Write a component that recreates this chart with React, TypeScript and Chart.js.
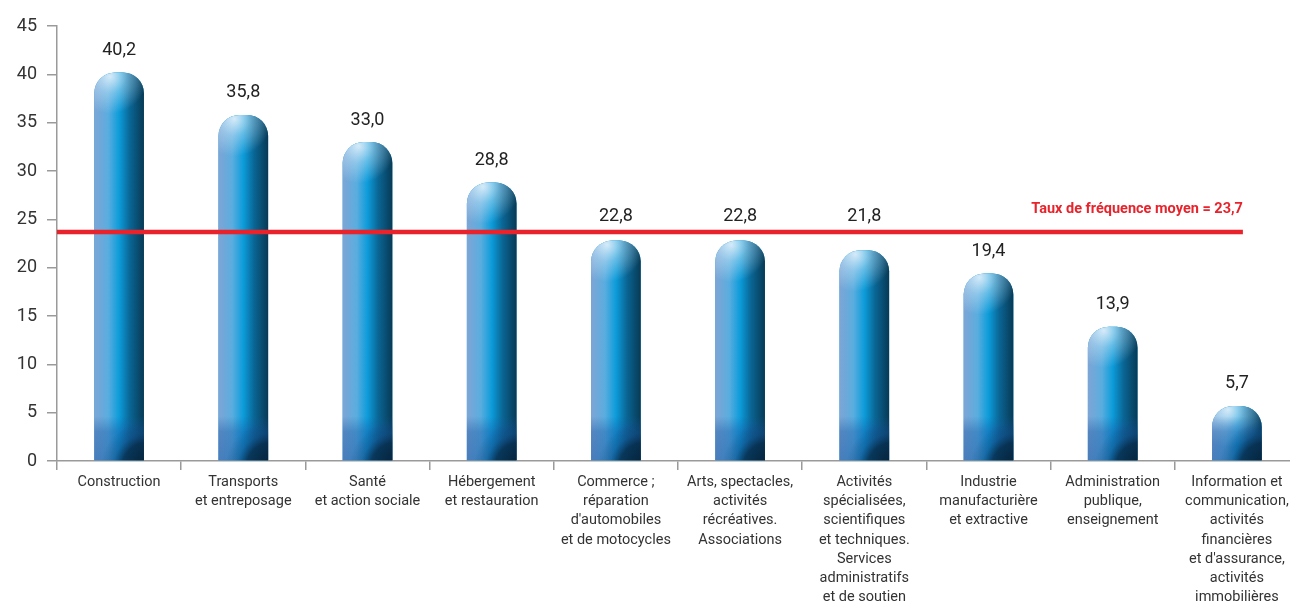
import React, { useEffect, useRef } from "react";
import { Chart, registerables } from "chart.js";

Chart.register(...registerables);

const categories: string[][] = [
  ["Construction"],
  ["Transports", "et entreposage"],
  ["Santé", "et action sociale"],
  ["Hébergement", "et restauration"],
  ["Commerce ;", "réparation", "d'automobiles", "et de motocycles"],
  ["Arts, spectacles,", "activités", "récréatives.", "Associations"],
  ["Activités", "spécialisées,", "scientifiques", "et techniques.", "Services", "administratifs", "et de soutien"],
  ["Industrie", "manufacturière", "et extractive"],
  ["Administration", "publique,", "enseignement"],
  ["Information et", "communication,", "activités", "financières", "et d'assurance,", "activités", "immobilières"],
];

const frequencyRates: number[] = [40.2, 35.8, 33.0, 28.8, 22.8, 22.8, 21.8, 19.4, 13.9, 5.7];

const averageRate = 23.7;
const averageLabel = "Taux de fréquence moyen = 23,7";

const yTicks: number[] = [0, 5, 10, 15, 20, 25, 30, 35, 40, 45];

const FONT = "Roboto, 'DejaVu Sans', sans-serif";

const fmt = (v: number) => v.toFixed(1).replace(".", ",");

const barPaint = {
  id: "barPaint",
  afterDatasetsDraw(chart: any) {
    const ctx: CanvasRenderingContext2D = chart.ctx;
    const meta = chart.getDatasetMeta(0);
    const lineY = chart.scales.y.getPixelForValue(averageRate);
    meta.data.forEach((el: any, i: number) => {
      const { x, y, base, width } = el.getProps(["x", "y", "base", "width"], true);
      const l = x - width / 2;
      const r = x + width / 2;
      const h = base - y;
      const rad = Math.min(21, width / 2, h);
      ctx.save();
      ctx.beginPath();
      ctx.moveTo(l, base);
      ctx.lineTo(l, y + rad);
      ctx.arcTo(l, y, l + rad, y, rad);
      ctx.lineTo(r - rad, y);
      ctx.arcTo(r, y, r, y + rad, rad);
      ctx.lineTo(r, base);
      ctx.closePath();
      ctx.clip();

      const g = ctx.createLinearGradient(l, 0, r, 0);
      g.addColorStop(0, "#7ea5d5");
      g.addColorStop(0.28, "#5aaddf");
      g.addColorStop(0.5, "#0c9cda");
      g.addColorStop(0.72, "#0a6594");
      g.addColorStop(1, "#073a55");
      ctx.fillStyle = g;
      ctx.fillRect(l - 1, y - 1, width + 2, h + 2);

      // top highlight
      const hx = l + width * 0.32;
      const hy = y + 4;
      const hg = ctx.createRadialGradient(hx, hy, 0, hx, hy, width * 0.75);
      hg.addColorStop(0, "rgba(220,238,250,0.95)");
      hg.addColorStop(0.45, "rgba(200,228,246,0.45)");
      hg.addColorStop(1, "rgba(200,228,246,0)");
      ctx.fillStyle = hg;
      ctx.fillRect(l - 1, y - 1, width + 2, Math.min(h, width * 1.2) + 1);

      // bottom band: soft blue darkening plus a curved dark corner
      const bandH = Math.min(32, h * 0.6);
      const bt = base - bandH;
      const vg = ctx.createLinearGradient(0, bt - 12, 0, base);
      vg.addColorStop(0, "rgba(25,85,160,0)");
      vg.addColorStop(0.35, "rgba(25,85,160,0.4)");
      vg.addColorStop(1, "rgba(25,85,160,0.5)");
      ctx.fillStyle = vg;
      ctx.fillRect(l - 1, bt - 12, width + 2, base - bt + 13);
      const cx = r + 4;
      const cy = base + 8;
      const rg = ctx.createRadialGradient(cx, cy, 0, cx, cy, width * 0.95);
      rg.addColorStop(0, "rgba(3,28,46,0.9)");
      rg.addColorStop(0.55, "rgba(5,40,66,0.75)");
      rg.addColorStop(0.75, "rgba(10,60,100,0.25)");
      rg.addColorStop(1, "rgba(10,60,100,0)");
      ctx.fillStyle = rg;
      ctx.fillRect(l - 1, bt - 6, width + 2, base - bt + 7);
      ctx.restore();

      // value label (kept clear of the average line)
      let ly = y - 22;
      if (ly > lineY - 15 && ly < lineY + 15) ly = lineY - 15;
      ctx.save();
      ctx.font = `18px ${FONT}`;
      ctx.fillStyle = "#222";
      ctx.textAlign = "center";
      ctx.textBaseline = "middle";
      ctx.fillText(fmt(frequencyRates[i]), x, ly);
      ctx.restore();
    });
  },
};

const averageLine = {
  id: "averageLine",
  afterDatasetsDraw(chart: any) {
    const ctx: CanvasRenderingContext2D = chart.ctx;
    const ys = chart.scales.y;
    const xs = chart.scales.x;
    const yp = ys.getPixelForValue(averageRate);
    const x0 = chart.chartArea.left;
    const x1 = xs.getPixelForValue(categories.length - 1) + 6;
    ctx.save();
    ctx.strokeStyle = "#e8232b";
    ctx.lineWidth = 4.5;
    ctx.beginPath();
    ctx.moveTo(x0, yp);
    ctx.lineTo(x1, yp);
    ctx.stroke();
    ctx.font = `bold 14.5px ${FONT}`;
    ctx.fillStyle = "#e8232b";
    ctx.textAlign = "right";
    ctx.textBaseline = "middle";
    ctx.fillText(averageLabel, x1, yp - 23);
    ctx.restore();
  },
};

export default function App() {
  const ref = useRef<HTMLCanvasElement | null>(null);
  useEffect(() => {
    document.body.style.margin = "0";
    document.body.style.overflow = "hidden";
    if (!ref.current) return;
    const chart = new Chart(ref.current, {
      type: "bar",
      data: {
        labels: categories as any,
        datasets: [
          {
            data: frequencyRates,
            backgroundColor: "#1a9ad6",
            borderRadius: { topLeft: 21, topRight: 21, bottomLeft: 0, bottomRight: 0 },
            borderSkipped: false,
            categoryPercentage: 1,
            barPercentage: 0.4,
          },
        ],
      },
      options: {
        animation: false,
        responsive: true,
        maintainAspectRatio: false,
        layout: { padding: { top: 26, right: 0, left: 0, bottom: 0 } },
        plugins: {
          legend: { display: false },
          tooltip: { enabled: false },
        },
        scales: {
          x: {
            type: "category",
            offset: true,
            grid: {
              offset: true,
              drawOnChartArea: false,
              drawTicks: true,
              tickLength: 9,
              color: "#9a9a9a",
              lineWidth: 1.5,
            },
            border: { display: true, color: "#9a9a9a", width: 1.5 },
            ticks: {
              color: "#333",
              font: { family: FONT, size: 14.5, lineHeight: 1.32 },
              padding: 3,
              maxRotation: 0,
              minRotation: 0,
              autoSkip: false,
            },
            afterFit: (s: any) => {
              s.height = 142;
              s.paddingLeft = 0;
              s.paddingRight = 0;
            },
          },
          y: {
            min: 0,
            max: 45,
            afterBuildTicks: (s: any) => {
              s.ticks = yTicks.map((v) => ({ value: v }));
            },
            grid: {
              drawOnChartArea: false,
              drawTicks: true,
              tickLength: 10,
              color: "#9a9a9a",
              lineWidth: 1.5,
            },
            border: { display: true, color: "#9a9a9a", width: 1.5 },
            ticks: {
              color: "#333",
              font: { family: FONT, size: 18 },
              padding: 10,
            },
            afterFit: (s: any) => {
              s.width = 57;
            },
          },
        },
      },
      plugins: [barPaint, averageLine],
    });
    return () => chart.destroy();
  }, []);
  return (
    <div style={{ position: "relative", width: 1290, height: 603, overflow: "hidden" }}>
      <div style={{ position: "relative", width: 1299, height: 603 }}>
        <canvas ref={ref} />
      </div>
    </div>
  );
}
